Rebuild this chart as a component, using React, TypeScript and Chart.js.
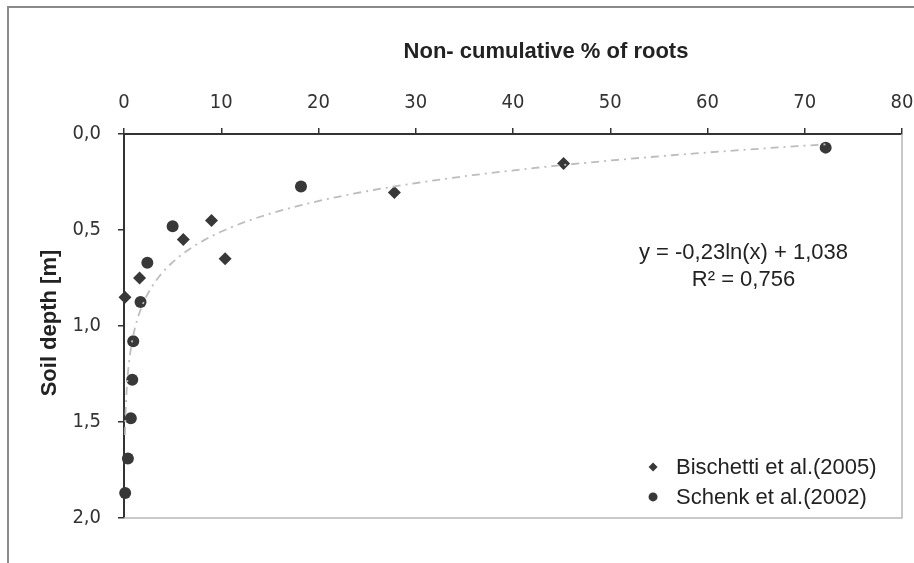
import React, { useEffect, useRef } from "react";
import { Chart, registerables } from "chart.js";

Chart.register(...registerables);

// Bischetti et al. (2005) — % of roots vs. depth
const bischettiPct = [0.1, 1.6, 6.1, 9.0, 10.4, 27.8, 45.2];
const bischettiDepth = [0.85, 0.75, 0.55, 0.45, 0.65, 0.305, 0.153];

// Schenk et al. (2002)
const schenkPct = [72.15, 18.2, 5.0, 2.4, 1.7, 0.95, 0.85, 0.7, 0.4, 0.12];
const schenkDepth = [0.071, 0.274, 0.48, 0.67, 0.875, 1.08, 1.28, 1.48, 1.69, 1.87];

// Logarithmic trend: depth = a * ln(pct) + b
const trendCoeffs = [-0.23, 1.038];
const trendRange = [0.1, 72.15];

const xTicks = [0, 10, 20, 30, 40, 50, 60, 70, 80];
const yTicks = [0, 0.5, 1.0, 1.5, 2.0];

const seriesNames = ["Bischetti et al.(2005)", "Schenk et al.(2002)"];
const equationLines = ["y = -0,23ln(x) + 1,038", "R² = 0,756"];
const xTitle = "Non- cumulative % of roots";
const yTitle = "Soil depth [m]";

const INK = "#333333";
const MARK = "#383838";
const TEXT = "#222222";

function trendPoints() {
  const pts: { x: number; y: number }[] = [];
  const [lo, hi] = trendRange;
  const n = 160;
  for (let i = 0; i <= n; i++) {
    const x = lo * Math.pow(hi / lo, i / n);
    pts.push({ x, y: trendCoeffs[0] * Math.log(x) + trendCoeffs[1] });
  }
  return pts;
}

const zip = (xs: number[], ys: number[]) => xs.map((x, i) => ({ x, y: ys[i] }));

const decorations = {
  id: "decorations",
  beforeDraw(chart: any) {
    const { ctx, width, height } = chart;
    ctx.save();
    ctx.fillStyle = "#ffffff";
    ctx.fillRect(0, 0, width, height);
    // outer frame (top and left edges)
    ctx.strokeStyle = "#8a8a8a";
    ctx.lineWidth = 2;
    ctx.beginPath();
    ctx.moveTo(8, height);
    ctx.lineTo(8, 7);
    ctx.lineTo(width, 7);
    ctx.stroke();
    ctx.restore();
  },
  beforeDatasetsDraw(chart: any) {
    const { ctx, chartArea } = chart;
    ctx.save();
    ctx.strokeStyle = "#b8b8b8";
    ctx.lineWidth = 1.5;
    ctx.beginPath();
    ctx.moveTo(chartArea.left, chartArea.bottom);
    ctx.lineTo(chartArea.right, chartArea.bottom);
    ctx.lineTo(chartArea.right, chartArea.top);
    ctx.stroke();
    ctx.restore();
  },
  afterDraw(chart: any) {
    const { ctx, chartArea } = chart;
    const xs = chart.scales.x;
    const ys = chart.scales.y;
    ctx.save();

    // axis titles
    ctx.fillStyle = TEXT;
    ctx.font = "bold 22px 'Liberation Sans', Arial, sans-serif";
    ctx.textAlign = "center";
    ctx.textBaseline = "middle";
    ctx.fillText(xTitle, 546, 52);
    ctx.save();
    ctx.translate(50, (chartArea.top + chartArea.bottom) / 2 - 3);
    ctx.rotate(-Math.PI / 2);
    ctx.fillText(yTitle, 0, 0);
    ctx.restore();

    // trend equation
    ctx.font = "22px 'Liberation Sans', Arial, sans-serif";
    const ex = xs.getPixelForValue(63.7);
    ctx.fillText(equationLines[0], ex, ys.getPixelForValue(0.62));
    ctx.fillText(equationLines[1], ex, ys.getPixelForValue(0.76));

    // legend
    const mx = xs.getPixelForValue(54.4);
    const tx = mx + 23;
    const rows = [ys.getPixelForValue(1.735), ys.getPixelForValue(1.89)];
    ctx.fillStyle = MARK;
    // diamond
    ctx.beginPath();
    const d = 4.5;
    ctx.moveTo(mx, rows[0] - d);
    ctx.lineTo(mx + d, rows[0]);
    ctx.lineTo(mx, rows[0] + d);
    ctx.lineTo(mx - d, rows[0]);
    ctx.closePath();
    ctx.fill();
    // circle
    ctx.beginPath();
    ctx.arc(mx, rows[1], 4.5, 0, Math.PI * 2);
    ctx.fill();
    ctx.fillStyle = TEXT;
    ctx.textAlign = "left";
    ctx.fillText(seriesNames[0], tx, rows[0] + 1);
    ctx.fillText(seriesNames[1], tx, rows[1] + 1);
    ctx.restore();
  },
};

export default function App() {
  const canvasRef = useRef<HTMLCanvasElement | null>(null);

  useEffect(() => {
    document.body.style.margin = "0";
    const canvas = canvasRef.current;
    if (!canvas) return;

    const tickFont = { family: "'DejaVu Sans Condensed', 'DejaVu Sans', sans-serif", size: 20 };

    const chart = new Chart(canvas, {
      type: "scatter",
      data: {
        datasets: [
          {
            label: "Log trend",
            type: "line",
            data: trendPoints(),
            borderColor: "#bdbdbd",
            borderWidth: 1.8,
            borderDash: [8, 5, 2, 5],
            pointRadius: 0,
            fill: false,
            tension: 0,
          } as any,
          {
            label: seriesNames[0],
            data: zip(bischettiPct, bischettiDepth),
            pointStyle: "rectRot",
            pointRadius: 6.5,
            backgroundColor: MARK,
            borderColor: MARK,
            borderWidth: 0,
            clip: false,
          } as any,
          {
            label: seriesNames[1],
            data: zip(schenkPct, schenkDepth),
            pointStyle: "circle",
            pointRadius: 6,
            backgroundColor: MARK,
            borderColor: MARK,
            borderWidth: 0,
            clip: false,
          } as any,
        ],
      },
      options: {
        responsive: false,
        animation: false,
        events: [],
        layout: { padding: { left: 0, top: 0, right: 12, bottom: 45 } },
        plugins: {
          legend: { display: false },
          tooltip: { enabled: false },
        },
        scales: {
          x: {
            type: "linear",
            position: "top",
            min: 0,
            max: 80,
            afterFit: (s: any) => {
              s.height = 134;
              s.paddingLeft = 0;
              s.paddingRight = 0;
            },
            afterBuildTicks: (s: any) => {
              s.ticks = xTicks.map((v) => ({ value: v }));
            },
            ticks: {
              color: INK,
              font: tickFont,
              padding: 13,
              maxRotation: 0,
              callback: (v: any) => String(v),
            },
            grid: {
              display: true,
              drawOnChartArea: false,
              drawTicks: true,
              tickLength: 6,
              color: INK,
              lineWidth: 1.5,
            },
            border: { display: true, color: INK, width: 2 },
          },
          y: {
            type: "linear",
            reverse: true,
            min: 0,
            max: 2,
            afterFit: (s: any) => {
              s.width = 124;
              s.paddingTop = 0;
              s.paddingBottom = 0;
            },
            afterBuildTicks: (s: any) => {
              s.ticks = yTicks.map((v) => ({ value: v }));
            },
            ticks: {
              color: INK,
              font: tickFont,
              padding: 17,
              callback: (v: any) => Number(v).toFixed(1).replace(".", ","),
            },
            grid: {
              display: true,
              drawOnChartArea: false,
              drawTicks: true,
              tickLength: 6,
              color: INK,
              lineWidth: 1.5,
            },
            border: { display: true, color: INK, width: 2 },
          },
        },
      },
      plugins: [decorations],
    } as any);

    return () => chart.destroy();
  }, []);

  return (
    <div style={{ width: 914, height: 563, position: "relative" }}>
      <canvas ref={canvasRef} width={914} height={563} style={{ display: "block" }} />
    </div>
  );
}
